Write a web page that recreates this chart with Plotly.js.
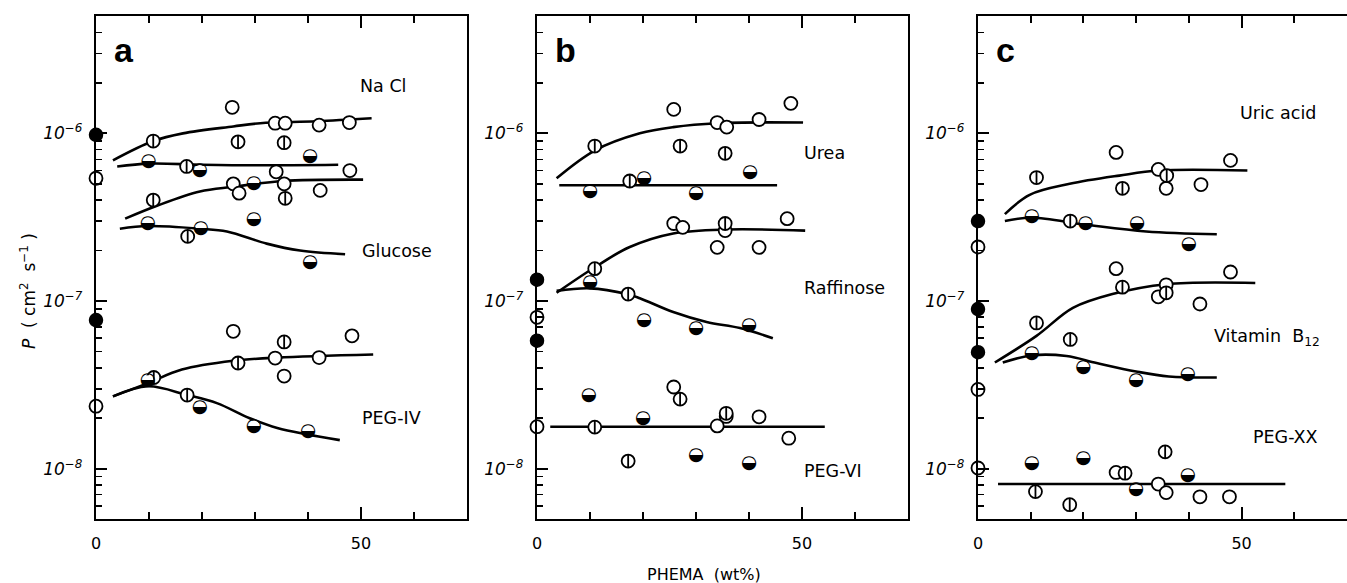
<!DOCTYPE html>
<html><head><meta charset="utf-8">
<script src="https://cdn.plot.ly/plotly-3.0.1.min.js"></script>
<style>body{margin:0;background:#fff}#g{width:1347px;height:583px}</style>
</head><body><div id="g"></div>
<script>
// ---------- Panel a ----------
const aOpenX = [25.7,33.8,35.7,42.1,47.8, 47.9,34.0, 25.9,27.0,35.5,42.3, 25.9,48.3,33.8,42.1,35.5, 0,0];
const aOpenY = [1.43e-6,1.15e-6,1.15e-6,1.12e-6,1.16e-6, 6.0e-7,5.9e-7, 5.0e-7,4.4e-7,5.0e-7,4.57e-7, 6.6e-8,6.2e-8,4.57e-8,4.6e-8,3.57e-8, 5.4e-7,2.36e-8];
const aVbarX = [10.8,26.8,35.5,17.1,10.8,35.7,17.3,35.5,26.8,17.2,10.9];
const aVbarY = [9.0e-7,8.9e-7,8.8e-7,6.35e-7,4.0e-7,4.1e-7,2.43e-7,5.7e-8,4.27e-8,2.75e-8,3.5e-8];
const aHalfX = [9.9,19.6,40.4,29.8,29.8,9.8,19.8,40.4,9.8,19.6,29.8,40.0];
const aHalfY = [6.8e-7,6.0e-7,7.3e-7,5.0e-7,3.07e-7,2.9e-7,2.7e-7,1.71e-7,3.35e-8,2.33e-8,1.8e-8,1.67e-8];
const aFillX = [0,0];
const aFillY = [9.8e-7,7.7e-8];
const aCurves = [
  {x:[3.2,10.8,16.4,25.9,31,41.6,52], y:[6.9e-7,9.0e-7,1.0e-6,1.1e-6,1.15e-6,1.18e-6,1.23e-6]},
  {x:[4,10,20,30,45.7], y:[6.35e-7,6.6e-7,6.5e-7,6.45e-7,6.5e-7]},
  {x:[5.5,11.5,19.6,25.9,35.3,50.4], y:[3.1e-7,3.7e-7,4.5e-7,4.8e-7,5.2e-7,5.3e-7]},
  {x:[4.5,9.8,19.6,24.7,32.2,38.5,47], y:[2.7e-7,2.8e-7,2.7e-7,2.6e-7,2.2e-7,2.0e-7,1.9e-7]},
  {x:[3.2,9.8,16.2,25.9,34.2,52.3], y:[2.7e-8,3.24e-8,3.9e-8,4.4e-8,4.6e-8,4.8e-8]},
  {x:[3.2,9.8,17.2,22.8,29,34.2,46], y:[2.7e-8,3.1e-8,2.75e-8,2.46e-8,2.0e-8,1.75e-8,1.48e-8]}
];
// ---------- Panel b ----------
const bOpenX = [25.8,34.0,35.8,41.9,47.9, 25.8,27.5,35.5,34.0,41.9,47.2, 0, 25.8,35.7,41.9,34.0,47.5, 0];
const bOpenY = [1.39e-6,1.16e-6,1.09e-6,1.21e-6,1.51e-6, 2.9e-7,2.75e-7,2.63e-7,2.09e-7,2.09e-7,3.1e-7, 8.0e-8, 3.07e-8,2.05e-8,2.04e-8,1.8e-8,1.52e-8, 1.78e-8];
const bVbarX = [10.9,27.0,35.5,17.5,10.9,35.5,17.2,27.0,10.9,17.2,35.7];
const bVbarY = [8.4e-7,8.4e-7,7.6e-7,5.2e-7,1.56e-7,2.9e-7,1.1e-7,2.6e-8,1.77e-8,1.11e-8,2.14e-8];
const bHalfX = [10.0,20.2,30.0,40.2,10.0,20.2,30.0,40.0,9.8,20.0,30.0,40.0];
const bHalfY = [4.5e-7,5.4e-7,4.4e-7,5.85e-7,1.29e-7,7.7e-8,6.9e-8,7.2e-8,2.75e-8,2.0e-8,1.2e-8,1.08e-8];
const bFillX = [0,0];
const bFillY = [1.34e-7,5.8e-8];
const bCurves = [
  {x:[3.7,10.9,19.4,25.7,34,50.2], y:[5.4e-7,7.9e-7,1.0e-6,1.09e-6,1.15e-6,1.16e-6]},
  {x:[4.2,45.3], y:[4.9e-7,4.9e-7]},
  {x:[3.7,10.9,17.5,25.7,35.8,50.6], y:[1.12e-7,1.59e-7,2.1e-7,2.53e-7,2.67e-7,2.63e-7]},
  {x:[3.7,10,17,19.4,25.7,32,38.3,44.5], y:[1.15e-7,1.19e-7,1.1e-7,1.04e-7,8.6e-8,7.5e-8,6.9e-8,6.0e-8]},
  {x:[2.5,54.3], y:[1.78e-8,1.78e-8]}
];
// ---------- Panel c ----------
const cOpenX = [0,0,0, 26.2,34.2,35.7,42.3,47.9, 26.2,47.9,35.7,34.2,42.1, 26.2,34.2,35.7,42.1,47.7];
const cOpenY = [2.1e-7,2.97e-8,1.01e-8, 7.7e-7,6.1e-7,4.7e-7,4.95e-7,6.9e-7, 1.56e-7,1.49e-7,1.25e-7,1.06e-7,9.6e-8, 9.5e-9,8.1e-9,7.2e-9,6.8e-9,6.8e-9];
const cVbarX = [11.1,27.4,35.8,17.5,27.4,35.7,11.1,17.5,35.5,27.9,10.9,17.4];
const cVbarY = [5.45e-7,4.7e-7,5.6e-7,3.0e-7,1.21e-7,1.12e-7,7.4e-8,5.9e-8,1.26e-8,9.4e-9,7.3e-9,6.1e-9];
const cHalfX = [10.2,20.4,30.2,40.0,10.2,20.0,30.0,39.8,10.2,20.0,39.8,30.0];
const cHalfY = [3.2e-7,2.9e-7,2.9e-7,2.19e-7,4.9e-8,4.0e-8,3.37e-8,3.66e-8,1.07e-8,1.16e-8,9.1e-9,7.5e-9];
const cFillX = [0,0,0];
const cFillY = [3.0e-7,8.95e-8,4.95e-8];
const cCurves = [
  {x:[5.1,9.8,17.4,26.8,34.3,51.1], y:[3.3e-7,4.3e-7,5.0e-7,5.6e-7,6.0e-7,6.0e-7]},
  {x:[5.1,10.2,20.6,31.9,45.3], y:[3.0e-7,3.14e-7,2.85e-7,2.6e-7,2.5e-7]},
  {x:[3.2,11.1,18,25.5,35.7,52.6], y:[4.3e-8,6.2e-8,9.1e-8,1.1e-7,1.26e-7,1.28e-7]},
  {x:[4.7,10.4,16.8,22.5,30,36.2,45.3], y:[4.3e-8,4.75e-8,4.7e-8,4.27e-8,3.8e-8,3.55e-8,3.5e-8]},
  {x:[3.8,58.3], y:[8.1e-9,8.1e-9]}
];

const yTickVals = [1e-8,1e-7,1e-6];
const yTickText = ['10<sup>−8</sup>','10<sup>−7</sup>','10<sup>−6</sup>'];
const xTickVals = [0,50];
const xTickText = ['0','50'];
const xMinorVals = [10,20,30,40,60];

const FONT = 'DejaVu Sans, sans-serif';
const MS = 13;
const panels = [
  {ax:'', open:[aOpenX,aOpenY], vbar:[aVbarX,aVbarY], half:[aHalfX,aHalfY], fill:[aFillX,aFillY], curves:aCurves},
  {ax:'2', open:[bOpenX,bOpenY], vbar:[bVbarX,bVbarY], half:[bHalfX,bHalfY], fill:[bFillX,bFillY], curves:bCurves},
  {ax:'3', open:[cOpenX,cOpenY], vbar:[cVbarX,cVbarY], half:[cHalfX,cHalfY], fill:[cFillX,cFillY], curves:cCurves}
];
const traces = [];
panels.forEach(p => {
  const xa = 'x'+p.ax, ya = 'y'+p.ax;
  p.curves.forEach(c => traces.push({x:c.x, y:c.y, xaxis:xa, yaxis:ya, mode:'lines',
    line:{color:'#000', width:2.6, shape:'spline', smoothing:1}, hoverinfo:'skip', showlegend:false}));
  const base = {xaxis:xa, yaxis:ya, mode:'markers', showlegend:false, cliponaxis:false, hoverinfo:'skip'};
  traces.push(Object.assign({}, base, {x:p.open[0], y:p.open[1],
    marker:{symbol:'circle', size:MS, color:'#fff', line:{color:'#000', width:1.8}}}));
  traces.push(Object.assign({}, base, {x:p.vbar[0], y:p.vbar[1],
    marker:{symbol:'circle', size:MS, color:'#fff', line:{color:'#000', width:1.8}}}));
  traces.push(Object.assign({}, base, {x:p.vbar[0], y:p.vbar[1],
    marker:{symbol:'line-ns', size:MS/1.45, color:'#000', line:{color:'#000', width:1.8}}}));
  traces.push(Object.assign({}, base, {x:p.half[0], y:p.half[1],
    marker:{symbol:'circle', size:MS-2, color:'#fff', line:{width:0}}}));
  traces.push(Object.assign({}, base, {x:p.half[0], y:p.half[1], mode:'text', text:p.half[0].map(()=>'◒'),
    textposition:'middle center', textfont:{family:'DejaVu Sans', size:18.5, color:'#000'}}));
  traces.push(Object.assign({}, base, {x:p.fill[0], y:p.fill[1],
    marker:{symbol:'circle', size:MS, color:'#000', line:{color:'#000', width:1.5}}}));
});

const W = 1347, H = 583;
const doms = [[96/W, 467/W],[537/W, 908/W],[978/W, 1.0]];
const yDom = [1-519/H, 1-16/H];
const layout = {width:W, height:H, margin:{l:0,r:0,t:0,b:0}, paper_bgcolor:'#fff', plot_bgcolor:'rgba(0,0,0,0)',
  showlegend:false, font:{family:FONT, color:'#000'}, annotations:[], hovermode:false};
['','2','3'].forEach((s,i) => {
  layout['xaxis'+s] = {domain:doms[i], range:[0,70], anchor:'y'+s, showgrid:false, zeroline:false,
    showline:true, linewidth:2.2, linecolor:'#000', mirror:'ticks',
    tickmode:'array', tickvals:xTickVals, ticktext:xTickText, ticks:'inside', ticklen:12, tickwidth:2, tickcolor:'#000',
    minor:{tickmode:'array', tickvals:xMinorVals, ticks:'inside', ticklen:7, tickwidth:2, tickcolor:'#000'},
    ticklabelstandoff:9, tickfont:{size:16, family:FONT}};
  layout['yaxis'+s] = {domain:yDom, type:'log', range:[-8.3,-5.3], anchor:'x'+s, showgrid:false, zeroline:false,
    showline:true, linewidth:2.2, linecolor:'#000', mirror:(i<2),
    tickmode:'array', tickvals:yTickVals, ticktext:yTickText, ticks:'inside', ticklen:11, tickwidth:2, tickcolor:'#000',
    minor:{dtick:'D1', ticks:'inside', ticklen:6, tickwidth:1.6, tickcolor:'#000'},
    ticklabelstandoff:8, tickfont:{size:17, family:FONT, style:'italic'}};
});
const labels = [
  ['x','y',49.4,-5.72,'Na Cl'],
  ['x','y',49.8,-6.704,'Glucose'],
  ['x','y',49.8,-7.70,'PEG-IV'],
  ['x2','y2',50,-6.12,'Urea'],
  ['x2','y2',50,-6.92,'Raffinose'],
  ['x2','y2',50,-8.015,'PEG-VI'],
  ['x3','y3',49.4,-5.88,'Uric acid'],
  ['x3','y3',44.3,-7.22,'Vitamin  B<sub>12</sub>'],
  ['x3','y3',51.7,-7.81,'PEG-XX']
];
labels.forEach(l => layout.annotations.push({xref:l[0], yref:l[1], x:l[2], y:l[3], text:l[4], showarrow:false,
  xanchor:'left', yanchor:'middle', font:{size:17.5, family:FONT, color:'#000'}}));
[['x','y','a'],['x2','y2','b'],['x3','y3','c']].forEach(l => layout.annotations.push({xref:l[0], yref:'paper',
  x:3.0, y:1-50/H, text:'<b>'+l[2]+'</b>', showarrow:false, xanchor:'left', yanchor:'middle',
  font:{size:34, family:'Liberation Sans, Arial, sans-serif', color:'#000'}}));
layout.annotations.push({xref:'paper', yref:'paper', x:28/W, y:1-291/H, text:'<i>P</i>  ( cm<sup>2</sup>  s<sup>−1</sup> )',
  textangle:-90, showarrow:false, xanchor:'center', yanchor:'middle', font:{size:17, family:FONT, color:'#000'}});
layout.annotations.push({xref:'paper', yref:'paper', x:704/W, y:1-574/H, text:'PHEMA  (wt%)',
  showarrow:false, xanchor:'center', yanchor:'middle', font:{size:16, family:FONT, color:'#000'}});

Plotly.newPlot('g', traces, layout, {staticPlot:true});
</script></body></html>
